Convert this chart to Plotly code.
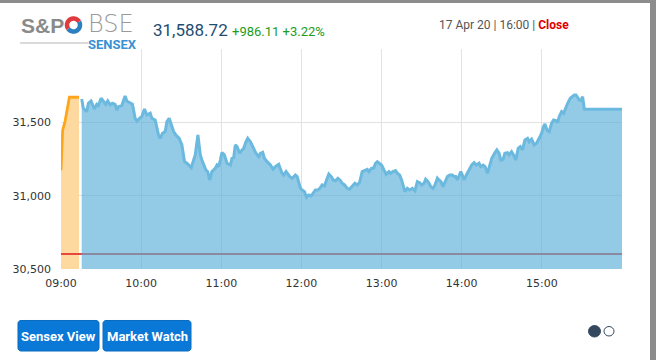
import numpy as np
import pandas as pd
import plotly.graph_objects as go

# ---------------- data ----------------
session_date = "2020-04-17"
pre_open_minutes = [0, 1.25, 3, 6.3, 13.5]          # minutes after 09:00
pre_open_values = [31173, 31446, 31505, 31671, 31671]

session_minutes = [
    15.5, 16.7, 19.3, 20.5, 22.5, 23.8, 25, 26.8, 28, 30, 31.7, 33.5, 35, 36.8, 38.5, 40.5,
    41.8, 43, 45.5, 48, 49.3, 51.8, 53.5, 55.5, 56.8, 59.3, 60.5, 62.5, 64.3, 66.8, 68, 70.5,
    73, 74.3, 76, 78, 79.3, 81, 83, 84.3, 86, 88.5, 90.5, 92.5, 94.3, 95.5, 97.5, 99.3, 100.5,
    102.5, 104.3, 105.5, 107.5, 108.5, 109.8, 111.3, 113, 115.5, 116.8, 118, 119.3, 120.5,
    122.3, 124.3, 126.8, 128, 129.3, 130.5, 131.8, 133.8, 135.5, 136.8, 138.5, 139.8, 141.8,
    144.3, 146, 148, 149.3, 151, 152.3, 154.3, 155.5, 156.8, 158.8, 160.5, 163, 164.3, 165.5,
    166.7, 168.5, 169.8, 171.3, 173, 174.3, 175.5, 176.8, 178, 179.3, 180.5, 182.3, 183.8,
    185.5, 187.3, 188.8, 190.5, 192.3, 193.8, 195.5, 197.3, 198.8, 200.5, 202.3, 203.8, 205.5,
    207.3, 208.8, 210.5, 212.3, 214.3, 216, 218, 220, 221.8, 223.5, 225.5, 227.5, 229.3, 230.5,
    232.5, 234, 235.5, 236.8, 238.5, 240, 241.8, 243.5, 245.5, 246.8, 248.5, 250.5, 251.8,
    253.5, 255, 256, 257.5, 259.3, 261, 263, 265, 266.8, 268.5, 270, 271.8, 273, 274.8, 276.8,
    278.5, 280, 281.8, 283, 284.5, 286, 287.5, 289.3, 291, 293, 294.3, 295.5, 296.8, 298,
    299.3, 300.5, 301.8, 303.5, 305.5, 307.5, 309.3, 311, 313, 314.3, 316, 317.5, 319.3,
    320.5, 322.5, 324.8, 326.3, 328, 329.3, 331, 332.3, 334.3, 335.5, 337.3, 338.8, 340.5,
    342.3, 343.8, 345.5, 347.3, 349.3, 350.5, 352.3, 354.3, 356, 358, 359.8, 361.3, 362.3,
    363.8, 365.5, 367.3, 368.8, 370.5, 371.8, 373, 374.8, 376.3, 378, 379.3, 381.3, 383,
    384.3, 385.5, 386.8, 388, 389.3, 390.5, 391.8, 420,
]
session_values = [
    31659, 31596, 31573, 31630, 31646, 31623, 31591, 31623, 31614, 31664, 31641, 31623, 31646,
    31619, 31630, 31623, 31584, 31607, 31614, 31680, 31646, 31630, 31623, 31528, 31509, 31532,
    31539, 31591, 31550, 31562, 31528, 31516, 31414, 31391, 31426, 31437, 31505, 31528, 31471,
    31437, 31414, 31391, 31346, 31232, 31221, 31209, 31191, 31243, 31278, 31414, 31278, 31243,
    31187, 31175, 31164, 31107, 31164, 31187, 31209, 31198, 31243, 31293, 31278, 31221, 31209,
    31255, 31260, 31346, 31334, 31289, 31312, 31323, 31368, 31391, 31368, 31323, 31289, 31266,
    31289, 31296, 31255, 31232, 31221, 31209, 31180, 31198, 31214, 31187, 31153, 31141, 31164,
    31148, 31130, 31119, 31130, 31141, 31130, 31085, 31050, 31039, 31027, 30989, 31005, 30998,
    31016, 31039, 31039, 31050, 31073, 31066, 31107, 31148, 31130, 31107, 31102, 31119, 31107,
    31085, 31073, 31050, 31044, 31066, 31085, 31073, 31089, 31164, 31175, 31180, 31164, 31187,
    31187, 31221, 31232, 31216, 31209, 31175, 31146, 31164, 31153, 31164, 31171, 31153, 31141,
    31107, 31073, 31027, 31050, 31039, 31050, 31034, 31096, 31089, 31073, 31085, 31112, 31096,
    31062, 31050, 31073, 31119, 31107, 31096, 31062, 31096, 31130, 31141, 31141, 31130, 31130,
    31107, 31130, 31164, 31141, 31107, 31141, 31175, 31209, 31225, 31209, 31221, 31198, 31209,
    31198, 31153, 31198, 31255, 31293, 31312, 31289, 31243, 31248, 31289, 31293, 31278, 31300,
    31278, 31243, 31323, 31334, 31312, 31380, 31391, 31368, 31385, 31346, 31357, 31391, 31426,
    31471, 31489, 31448, 31437, 31494, 31516, 31512, 31498, 31539, 31573, 31562, 31607, 31630,
    31664, 31680, 31687, 31687, 31664, 31653, 31648, 31675, 31588.72, 31588.72,
]

prev_close = 30602.61
last_value = 31588.72
change = 986.11
change_pct = 3.22
update_label = "17 Apr 20 | 16:00 | "
status_label = "Close"

y_tick_values = [30500, 31000, 31500, 32000]
y_tick_labels = ["30,500", "31,000", "31,500", ""]
x_tick_labels = ["09:00", "10:00", "11:00", "12:00", "13:00", "14:00", "15:00"]
button_labels = ["Sensex View", "Market Watch"]

# ---------------- helpers ----------------
base = pd.Timestamp(session_date + " 09:00")
to_time = lambda mins: [base + pd.Timedelta(minutes=m) for m in mins]
x_ticks = [pd.Timestamp(session_date + " " + t) for t in x_tick_labels]

W, H = 656, 360
ML, MR, MT, MB = 61, 34, 49, 91
PW, PH = W - ML - MR, H - MT - MB


def px(x):
    return (x - ML) / PW


def py(y):
    return (H - MB - y) / PH


def rounded_rect(x0, y0, x1, y1, r):
    pts = []
    for cx, cy, a0 in [(x1 - r, y0 + r, -90), (x1 - r, y1 - r, 0), (x0 + r, y1 - r, 90), (x0 + r, y0 + r, 180)]:
        for a in np.linspace(a0, a0 + 90, 5):
            pts.append((cx + r * np.cos(np.radians(a)), cy + r * np.sin(np.radians(a))))
    return "M " + " L ".join(f"{px(a):.5f},{py(b):.5f}" for a, b in pts) + " Z"


def arc_path(cx, cy, r, a0, a1, n=24):
    pts = [(cx + r * np.cos(np.radians(a)), cy - r * np.sin(np.radians(a))) for a in np.linspace(a0, a1, n)]
    return "M " + " L ".join(f"{px(a):.5f},{py(b):.5f}" for a, b in pts)


# ---------------- figure ----------------
fig = go.Figure()
fig.add_trace(go.Scatter(
    x=to_time(pre_open_minutes), y=pre_open_values, mode="lines",
    line=dict(color="#ffa51c", width=2.8), fill="tozeroy", fillcolor="#fdd9a0",
    hoverinfo="skip",
))
fig.add_trace(go.Scatter(
    x=to_time([0, 420]), y=[prev_close, prev_close], mode="lines",
    line=dict(color="#e8473f", width=2), hoverinfo="skip",
))
fig.add_trace(go.Scatter(
    x=to_time(session_minutes), y=session_values, mode="lines",
    line=dict(color="#6cb9df", width=3), fill="tozeroy",
    fillcolor="rgba(89,174,215,0.65)", hoverinfo="skip",
))

shapes = [
    # frame borders
    dict(type="rect", xref="paper", yref="paper", x0=px(0), x1=px(W), y0=py(0), y1=py(3),
         fillcolor="#8c8c8c", line=dict(width=0), layer="above"),
    dict(type="rect", xref="paper", yref="paper", x0=px(650), x1=px(W), y0=py(0), y1=py(H),
         fillcolor="#8c8c8c", line=dict(width=0), layer="above"),
    # logo underline
    dict(type="line", xref="paper", yref="paper", x0=px(20), x1=px(88), y0=py(43), y1=py(43),
         line=dict(color="#b5b5b5", width=1)),
    # logo swirl
    dict(type="path", xref="paper", yref="paper", path=arc_path(73.5, 25, 6.5, 30, 215),
         line=dict(color="#e03a3e", width=4.5)),
    dict(type="path", xref="paper", yref="paper", path=arc_path(73.5, 25, 6.5, 215, 390),
         line=dict(color="#2c7fc1", width=4.5)),
    # slider dots
    dict(type="circle", xref="paper", yref="paper", x0=px(588.5), x1=px(600.5), y0=py(325.5), y1=py(337),
         fillcolor="#34495e", line=dict(color="#34495e", width=1)),
    dict(type="circle", xref="paper", yref="paper", x0=px(604), x1=px(614), y0=py(326.5), y1=py(336),
         fillcolor="white", line=dict(color="#34495e", width=1)),
]

for (x0, x1) in [(18, 99), (103, 191)]:
    shapes.append(dict(type="path", xref="paper", yref="paper", path=rounded_rect(x0, 320.5, x1, 351, 3),
                       fillcolor="#0a78d6", line=dict(color="#0a6cc0", width=1)))

annotations = [
    dict(text="<b>S&P</b>", x=px(19), y=py(25.5), xanchor="left", yanchor="middle",
         font=dict(family="Liberation Sans", size=21, color="#8a8a8a")),
    dict(text="<span style='font-size:24px;color:#9a9a9a;font-weight:300;font-family:DejaVu Sans'>BSE</span>"
              "<br><b>SENSEX</b>",
         x=px(86), y=py(31.5), xanchor="left", yanchor="middle", align="left",
         font=dict(family="Roboto", size=13, color="#3b8fd4")),
    dict(text=f"{last_value:,.2f}", x=px(151), y=py(29.5), xanchor="left", yanchor="middle",
         font=dict(family="Roboto", size=17, color="#1e4d72")),
    dict(text=f"+{change:,.2f} +{change_pct:.2f}%", x=px(230), y=py(31), xanchor="left", yanchor="middle",
         font=dict(family="Roboto", size=13, color="#1c9c1c")),
    dict(text=update_label + f"<span style='color:#e00000'><b>{status_label}</b></span>",
         x=px(571), y=py(25.5), xanchor="right", yanchor="middle",
         font=dict(family="Roboto", size=12, color="#555555")),
]
for lbl, cx in zip(button_labels, [58.5, 147]):
    annotations.append(dict(text=f"<b>{lbl}</b>", x=px(cx), y=py(336), xanchor="center", yanchor="middle",
                            font=dict(family="Roboto", size=13, color="white")))
for a in annotations:
    a.update(xref="paper", yref="paper", showarrow=False)

fig.update_layout(
    width=W, height=H,
    margin=dict(l=ML, r=MR, t=MT, b=MB, pad=0),
    paper_bgcolor="white", plot_bgcolor="white",
    showlegend=False,
    shapes=shapes, annotations=annotations,
    xaxis=dict(
        type="date",
        range=[base, base + pd.Timedelta(hours=7)],
        tickvals=x_ticks, ticktext=x_tick_labels,
        showgrid=True, gridcolor="#e2e2e2", gridwidth=1,
        zeroline=False, showline=False, ticks="",
        ticklabelstandoff=6,
        tickfont=dict(family="DejaVu Sans", size=11, color="#333333"),
        fixedrange=True,
    ),
    yaxis=dict(
        range=[30500, 32000],
        tickvals=y_tick_values, ticktext=y_tick_labels,
        showgrid=True, gridcolor="#e2e2e2", gridwidth=1,
        zeroline=False, showline=False, ticks="",
        ticklabelstandoff=9,
        tickfont=dict(family="DejaVu Sans", size=11, color="#333333"),
        fixedrange=True,
    ),
)

fig.write_html(
    "out.html",
    config={"displayModeBar": False},
    post_script="document.body.style.margin='0';document.body.style.overflow='hidden';",
)
